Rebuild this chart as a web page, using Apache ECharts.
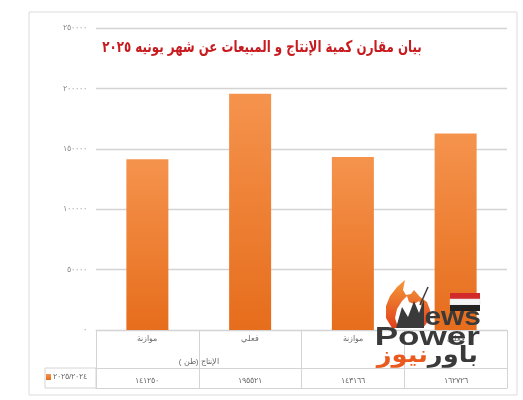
<!DOCTYPE html>
<html><head><meta charset="utf-8">
<script src="https://cdn.jsdelivr.net/npm/echarts@6/dist/echarts.min.js"></script>
<style>html,body{margin:0;padding:0;background:#fff}#c{width:523px;height:400px}</style>
</head><body><div id="c"></div>
<script>
const titleText = 'بيان مقارن كمية الإنتاج و المبيعات عن شهر يونيه ٢٠٢٥';
const categories = ['موازنة', 'فعلي', 'موازنة', 'فعلي'];
const groupLabels = ['الإنتاج (طن )', ''];
const seriesName = '٢٠٢٥/٢٠٢٤';
const values = [141250, 195521, 143166, 162726];
const yMin = 0, yMax = 250000, yStep = 50000;

function toArabicDigits(n) { return String(n).replace(/\d/g, d => '٠١٢٣٤٥٦٧٨٩'[d]); }

const lineColor = '#d4d4d4';
const labelColor = '#6b6b6b';
const logoDark = '#3a3a3a';
const logoOrange = '#ea5a1e';
const chart = echarts.init(document.getElementById('c'), null, {renderer: 'canvas'});
chart.setOption({
  animation: false,
  backgroundColor: '#fff',
  legend: {
    data: [seriesName], left: 46, top: 373, icon: 'rect', itemWidth: 5, itemHeight: 6, itemGap: 2,
    textStyle: {fontSize: 8, color: labelColor, padding: [0, 0, 0, -3]}, padding: 0
  },
  grid: {left: 96, right: 16, top: 28, bottom: 70},
  yAxis: {
    type: 'value', min: yMin, max: yMax, interval: yStep,
    axisLine: {show: false}, axisTick: {show: false},
    axisLabel: {formatter: v => toArabicDigits(v), fontSize: 8, color: '#8a8a8a', margin: 9},
    splitLine: {lineStyle: {color: lineColor, width: 1.3}}
  },
  xAxis: [
    {type: 'category', data: categories, position: 'bottom',
     axisLine: {show: true, lineStyle: {color: lineColor}},
     axisTick: {show: true, length: 58, lineStyle: {color: lineColor}},
     axisLabel: {fontSize: 8, color: labelColor, margin: 5}},
    {type: 'category', data: groupLabels, position: 'bottom', offset: 0,
     axisLine: {show: false}, axisTick: {show: false},
     axisLabel: {fontSize: 8, color: labelColor, margin: 28}},
    {type: 'category', data: values.map(toArabicDigits), position: 'bottom', offset: 38,
     axisLine: {show: true, lineStyle: {color: lineColor}}, axisTick: {show: false},
     axisLabel: {fontSize: 8, color: labelColor, margin: 9}},
    {type: 'category', data: categories, position: 'bottom', offset: 58,
     axisLine: {show: true, lineStyle: {color: lineColor}}, axisTick: {show: false},
     axisLabel: {show: false}}
  ],
  series: [{
    name: seriesName, type: 'bar', xAxisIndex: 0, data: values, barWidth: 42,
    itemStyle: {color: new echarts.graphic.LinearGradient(0, 0, 0, 1, [
      {offset: 0, color: '#f5934d'}, {offset: 1, color: '#e66d1c'}])}
  }],
  graphic: [
    {type: 'rect', shape: {x: 29, y: 12, width: 488, height: 383}, style: {fill: 'none', stroke: '#dcdcdc', lineWidth: 1}},
    {type: 'rect', shape: {x: 45, y: 368, width: 51, height: 20}, style: {fill: 'none', stroke: lineColor, lineWidth: 1}},
    {type: 'text', x: 262, y: 48, scaleX: 0.74, scaleY: 1,
     style: {text: titleText, fontFamily: 'DejaVu Sans', fontSize: 16, fontWeight: 'bold', fill: '#c81b1f', textAlign: 'center', textVerticalAlign: 'middle'}, z: 10},
    // logo watermark
    {type: 'polygon', shape: {points: [[392,328],[386,318],[386,306],[390,296],[397,287],[405,280],[403,290],[406,295],[411,294],[414,290],[420,297],[427,302],[430,310],[429,320],[423,328]]},
     style: {fill: new echarts.graphic.LinearGradient(0, 0, 0, 1, [{offset: 0, color: '#f39a3a'}, {offset: 1, color: '#e2401b'}])}, z: 10},
    {type: 'polygon', shape: {points: [[398,327],[395,318],[397,309],[402,301],[407,296],[409,302],[414,304],[419,301],[423,309],[424,318],[420,327]]}, style: {fill: '#fff'}, z: 10},
    {type: 'polygon', shape: {points: [[396,328],[402,307],[408,317],[414,301],[419,313],[424,299],[424,328]]}, style: {fill: logoDark}, z: 10},
    {type: 'line', shape: {x1: 420, y1: 305, x2: 428, y2: 287}, style: {stroke: logoDark, lineWidth: 1.5}, z: 10},
    {type: 'group', x: 450, y: 293, z: 10, children: [
      {type: 'rect', shape: {x: 0, y: 0, width: 30, height: 6}, style: {fill: '#d22a2a'}, z: 10},
      {type: 'rect', shape: {x: 0, y: 6, width: 30, height: 6}, style: {fill: '#f4f4f4', stroke: '#ddd', lineWidth: 0.5}, z: 10},
      {type: 'rect', shape: {x: 0, y: 12, width: 30, height: 6}, style: {fill: '#222'}, z: 10}
    ]},
    {type: 'text', x: 481, y: 318, scaleX: 1.15,
     style: {text: 'ews', fontFamily: 'Liberation Sans', fontWeight: 'bold', fontSize: 26, fill: logoDark, textAlign: 'right', textVerticalAlign: 'middle'}, z: 10},
    {type: 'text', x: 480, y: 338, scaleX: 1.35,
     style: {text: 'Power', fontFamily: 'Liberation Sans', fontWeight: 'bold', fontSize: 26, fill: logoDark, textAlign: 'right', textVerticalAlign: 'middle'}, z: 10},
    {type: 'text', x: 478, y: 356, scaleX: 1.12,
     style: {rich: {a: {fill: logoDark, fontSize: 23, fontWeight: 'bold', fontFamily: 'DejaVu Sans'}, b: {fill: logoOrange, fontSize: 23, fontWeight: 'bold', fontFamily: 'DejaVu Sans'}},
             text: '{b|نيوز}{a|باور}', textAlign: 'right', textVerticalAlign: 'middle'}, z: 10}
  ]
});
</script></body></html>
